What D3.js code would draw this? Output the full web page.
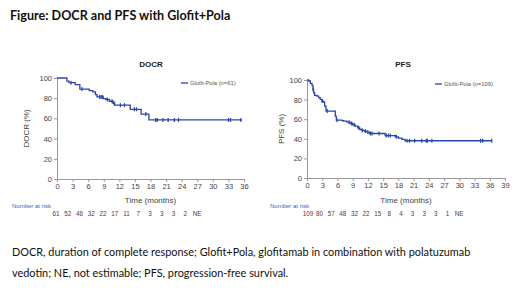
<!DOCTYPE html>
<html>
<head>
<meta charset="utf-8">
<style>
  body { margin: 0; background: #fff; }
  svg text { font-family: Arial, "Liberation Sans", sans-serif; }
  .cap { font-family: Lato, "Open Sans", sans-serif !important; }
</style>
</head>
<body></body>

<script type='text/javascript' src='https://d3js.org/d3.v7.min.js'></script>
<script>
    var width = 520, height = 304;

    // DOCR Kaplan-Meier steps: [time (months), %]
    var docrSteps = [[0, 100], [1.9, 97], [2.3, 95.4], [3.5, 93.4], [4.4, 89], [6.2, 87.5], [6.9, 86.2],
        [7.4, 83.6], [7.7, 81.3], [8.9, 79.5], [9.4, 78.7], [10.1, 77], [10.8, 75], [11.1, 73.1],
        [14.1, 69], [16.2, 64.3], [17.7, 58.5]];
    var docrEnd = 35.6;
    var docrCensor = [2.7, 4.8, 8.2, 8.5, 8.8, 9.7, 10.6, 11.0, 12.2, 13.0, 14.9, 15.3, 17.1, 19.0, 19.3,
        20.4, 21.4, 22.6, 23.4, 33.0, 33.4, 35.4];
    var docrAtRisk = ['61', '52', '46', '32', '22', '17', '11', '7', '3', '3', '3', '2', 'NE'];

    // PFS Kaplan-Meier steps
    var pfsSteps = [[0, 100], [0.33, 99], [0.66, 96.6], [0.98, 94.5], [1.18, 90.4], [1.31, 87], [1.5, 84.3],
        [1.97, 83.6], [2.3, 82], [2.6, 80.2], [2.95, 78.5], [3.28, 77.5], [3.47, 73.4], [3.74, 68.3],
        [5.57, 63.1], [5.77, 59], [6.9, 58.5], [7.2, 58], [7.9, 57], [8.5, 55.6], [9.0, 54.3], [9.5, 52.9],
        [10.0, 51.2], [10.4, 49.5], [10.8, 48.5], [11.3, 47.8], [11.8, 46.8], [12.3, 45.4], [15.4, 43.3],
        [17.4, 42], [18.0, 40.6], [18.7, 39.5], [19.3, 38]];
    var pfsEnd = 36.4;
    var pfsCensor = [1.2, 3.0, 4.0, 5.9, 8.3, 8.8, 9.3, 10.2, 10.9, 11.5, 12.0, 12.5, 12.8, 14.2, 15.6, 16.0,
        16.4, 17.6, 19.7, 20.2, 21.2, 22.6, 23.5, 23.7, 24.6, 34.2, 34.6, 36.4];
    var pfsAtRisk = ['109', '80', '57', '48', '32', '22', '15', '8', '4', '3', '3', '3', '1', 'NE'];

    var yTicks = [0, 20, 40, 60, 80, 100];

    var svg = d3.select('body').append('svg').attr('width', width).attr('height', height);

    svg.append('text').attr('class', 'cap').attr('x', 10).attr('y', 20)
        .style('font-weight', 'bold').style('font-size', '12.6px').attr('fill', '#111')
        .text('Figure: DOCR and PFS with Glofit+Pola');

    // footnote
    svg.append('text').attr('class', 'cap').attr('x', 12).attr('y', 256)
        .style('font-size', '10.9px').attr('fill', '#111')
        .text('DOCR, duration of complete response; Glofit+Pola, glofitamab in combination with polatuzumab');
    svg.append('text').attr('class', 'cap').attr('x', 12).attr('y', 277)
        .style('font-size', '10.9px').attr('fill', '#111')
        .text('vedotin; NE, not estimable; PFS, progression-free survival.');

    function survAt(steps, t) {
        var v = steps[0][1];
        steps.forEach(function (s) { if (s[0] <= t) v = s[1]; });
        return v;
    }

    function drawKM(cfg) {
        var x = d3.scaleLinear().domain([0, cfg.xMax]).range([cfg.x0, cfg.x1]);
        var y = d3.scaleLinear().domain([0, 100]).range([cfg.y0, cfg.y1]);
        var g = svg.append('g');

        // title
        g.append('text').attr('x', cfg.titleX).attr('y', 67).attr('text-anchor', 'middle')
            .style('font-size', '8px').style('font-weight', 'bold').attr('fill', '#222').text(cfg.title);

        var xAxis = d3.axisBottom(x).tickValues(d3.range(0, cfg.xMax + 1, 3)).tickSize(3).tickPadding(2);
        var yAxis = d3.axisLeft(y).tickValues(yTicks).tickSize(3).tickPadding(2);

        var gx = g.append('g').attr('transform', 'translate(0,' + cfg.y0 + ')').call(xAxis);
        var gy = g.append('g').attr('transform', 'translate(' + cfg.x0 + ',0)').call(yAxis);
        [gx, gy].forEach(function (a) {
            a.select('.domain').attr('stroke', '#999');
            a.selectAll('.tick line').attr('stroke', '#999');
            a.selectAll('.tick text').style('font-size', '7.5px').attr('fill', '#444')
                .style('font-family', 'Arial, "Liberation Sans", sans-serif');
        });

        // axis labels
        g.append('text').attr('x', (cfg.x0 + cfg.x1) / 2).attr('y', 203).attr('text-anchor', 'middle')
            .style('font-size', '8px').attr('fill', '#444').text('Time (months)');
        g.append('text').attr('transform', 'translate(' + cfg.yLabX + ',' + (cfg.y0 + cfg.y1) / 2 + ') rotate(-90)')
            .attr('text-anchor', 'middle').style('font-size', '8px').attr('fill', '#444').text(cfg.yLabel);

        // curve
        var pts = cfg.steps.slice();
        pts.push([cfg.end, pts[pts.length - 1][1]]);
        var line = d3.line().x(function (d) { return x(d[0]); }).y(function (d) { return y(d[1]); })
            .curve(d3.curveStepAfter);
        g.append('path').datum(pts).attr('d', line).attr('fill', 'none')
            .attr('stroke', '#2846a8').attr('stroke-width', 1.3);

        // censor marks
        g.selectAll('.cens').data(cfg.censor).join('line').attr('class', 'cens')
            .attr('x1', function (d) { return x(d); }).attr('x2', function (d) { return x(d); })
            .attr('y1', function (d) { return y(survAt(cfg.steps, d)) - 2; })
            .attr('y2', function (d) { return y(survAt(cfg.steps, d)) + 2; })
            .attr('stroke', '#2846a8').attr('stroke-width', 1.2);

        // legend
        g.append('line').attr('x1', cfg.legX).attr('x2', cfg.legX + 7).attr('y1', cfg.legY).attr('y2', cfg.legY)
            .attr('stroke', '#2846a8').attr('stroke-width', 1.3);
        g.append('text').attr('x', cfg.legX + 9).attr('y', cfg.legY + 2).style('font-size', '5.8px')
            .attr('fill', '#555').text(cfg.legend);

        // number at risk
        g.append('text').attr('x', cfg.nrX).attr('y', 208).style('font-size', '6px').attr('fill', '#3d5fc4')
            .text('Number at risk');
        var xr = d3.scaleLinear().domain([0, cfg.atRisk.length - 1]).range([cfg.r0, cfg.r1]);
        g.selectAll('.risk').data(cfg.atRisk).join('text').attr('class', 'risk')
            .attr('x', function (d, i) { return xr(i); }).attr('y', 216).attr('text-anchor', 'middle')
            .style('font-size', '6.3px').attr('fill', '#444').text(function (d) { return d; });
    }

    drawKM({
        title: 'DOCR', titleX: 151, yLabel: 'DOCR (%)', yLabX: 29, xMax: 36,
        x0: 57, x1: 244, y0: 179, y1: 78,
        steps: docrSteps, end: docrEnd, censor: docrCensor,
        legX: 181, legY: 83, legend: 'Glofit-Pola (n=61)',
        nrX: 12, atRisk: docrAtRisk, r0: 56, r1: 197
    });

    drawKM({
        title: 'PFS', titleX: 403, yLabel: 'PFS (%)', yLabX: 284, xMax: 39,
        x0: 307, x1: 505, y0: 178, y1: 80,
        steps: pfsSteps, end: pfsEnd, censor: pfsCensor,
        legX: 435, legY: 84, legend: 'Glofit-Pola (n=109)',
        nrX: 270, atRisk: pfsAtRisk, r0: 308, r1: 459
    });
</script>
</html>
